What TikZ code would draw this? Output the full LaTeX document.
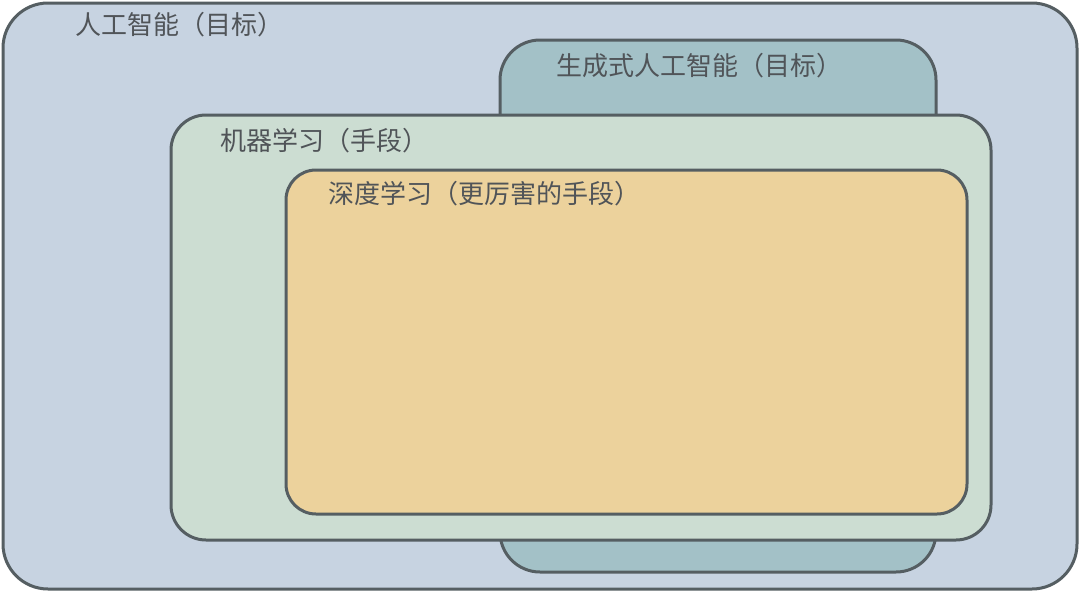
\documentclass[tikz,border=0pt]{standalone}
\usepackage{xcolor}
\usepackage{fontspec}
\setmainfont{Noto Sans CJK SC}
\usepackage{tikz}
\usetikzlibrary{positioning, shapes}

\definecolor{aiblue}{RGB}{199,211,225}
\definecolor{genteal}{RGB}{163,193,199}
\definecolor{mlgreen}{RGB}{204,221,210}
\definecolor{dlsand}{RGB}{236,210,156}
\definecolor{edgegray}{RGB}{85,94,98}
\definecolor{textgray}{RGB}{80,84,88}

\begin{document}
\begin{tikzpicture}[x=1pt, y=-1pt]

        % Define block styles
        \tikzstyle{area} = [rectangle, draw=edgegray, line width=3pt, inner sep=0pt, outer sep=0pt]
        \tikzstyle{aibox} = [area, fill=aiblue, rounded corners=45pt, minimum width=1074pt, minimum height=586pt]
        \tikzstyle{genbox} = [area, fill=genteal, rounded corners=40pt, minimum width=436pt, minimum height=532pt]
        \tikzstyle{mlbox} = [area, fill=mlgreen, rounded corners=35pt, minimum width=820pt, minimum height=425pt]
        \tikzstyle{dlbox} = [area, fill=dlsand, rounded corners=30pt, minimum width=681pt, minimum height=344pt]
        \tikzstyle{tag} = [anchor=base west, inner sep=0pt, text=textgray, font=\fontsize{26}{26}\selectfont]

        \fill[white] (0,0) rectangle (1080,592);
        \useasboundingbox (0,0) rectangle (1080,592);

        % Components
        \node (ai) [aibox] at (540,296) {};
        \node (gen) [genbox] at (718,306) {};
        \node (ml) [mlbox] at (581,327.5) {};
        \node (dl) [dlbox] at (626.5,342) {};

        % Labels
        \node (ailabel) [tag] at ([xshift=72.5pt, yshift=-31.5pt]ai.north west) {人工智能（目标）};
        \node (genlabel) [tag] at ([xshift=56.5pt, yshift=-35pt]gen.north west) {生成式人工智能（目标）};
        \node (mllabel) [tag] at ([xshift=49.5pt, yshift=-35pt]ml.north west) {机器学习（手段）};
        \node (dllabel) [tag] at ([xshift=42.5pt, yshift=-33pt]dl.north west) {深度学习（更厉害的手段）};

\end{tikzpicture}
\end{document}
